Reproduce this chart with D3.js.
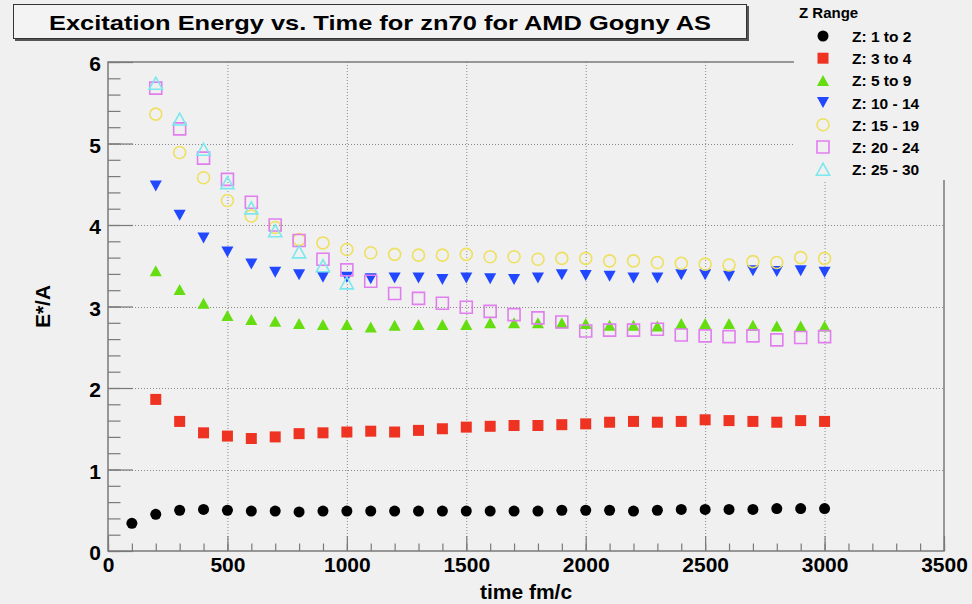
<!DOCTYPE html>
<html>
<head>
<meta charset="utf-8">
<script src="https://cdn.jsdelivr.net/npm/d3@7"></script>
<style>
  html, body { margin: 0; padding: 0; background: #f0f0f0; }
  svg { display: block; font-family: "Liberation Sans", Arial, Helvetica, sans-serif; font-weight: bold; }
</style>
</head>
<body>
<div id="chart"></div>
<script>
// time steps (fm/c)
const timeZ1 = [100, 200, 300, 400, 500, 600, 700, 800, 900, 1000, 1100, 1200, 1300, 1400, 1500,
  1600, 1700, 1800, 1900, 2000, 2100, 2200, 2300, 2400, 2500, 2600, 2700, 2800, 2900, 3000]
const timeMain = [200, 300, 400, 500, 600, 700, 800, 900, 1000, 1100, 1200, 1300, 1400, 1500,
  1600, 1700, 1800, 1900, 2000, 2100, 2200, 2300, 2400, 2500, 2600, 2700, 2800, 2900, 3000]
const timeZ25 = [200, 300, 400, 500, 600, 700, 800, 900, 1000]

// E*/A per Z range
const eZ1 = [0.34, 0.45, 0.50, 0.51, 0.50, 0.49, 0.49, 0.48, 0.49, 0.49, 0.49, 0.49, 0.49, 0.49, 0.49,
  0.49, 0.49, 0.49, 0.50, 0.50, 0.50, 0.49, 0.50, 0.51, 0.51, 0.51, 0.51, 0.52, 0.52, 0.52]
const eZ3 = [1.86, 1.59, 1.45, 1.41, 1.38, 1.40, 1.44, 1.45, 1.46, 1.47, 1.46, 1.48, 1.50, 1.52,
  1.53, 1.54, 1.54, 1.55, 1.56, 1.58, 1.59, 1.58, 1.59, 1.61, 1.60, 1.59, 1.58, 1.60, 1.59]
const eZ5 = [3.44, 3.21, 3.04, 2.89, 2.84, 2.82, 2.79, 2.78, 2.78, 2.75, 2.77, 2.78, 2.78, 2.78,
  2.80, 2.80, 2.80, 2.80, 2.79, 2.77, 2.77, 2.76, 2.79, 2.79, 2.79, 2.77, 2.76, 2.76, 2.76]
const eZ10 = [4.48, 4.12, 3.84, 3.67, 3.52, 3.42, 3.39, 3.36, 3.36, 3.34, 3.35, 3.35, 3.33, 3.35,
  3.34, 3.33, 3.35, 3.39, 3.38, 3.37, 3.35, 3.35, 3.39, 3.39, 3.37, 3.44, 3.43, 3.44, 3.42]
const eZ15 = [5.36, 4.89, 4.58, 4.30, 4.11, 3.97, 3.82, 3.78, 3.70, 3.66, 3.64, 3.63, 3.63, 3.64,
  3.61, 3.61, 3.58, 3.59, 3.59, 3.56, 3.56, 3.54, 3.53, 3.52, 3.51, 3.55, 3.54, 3.60, 3.59]
const eZ20 = [5.68, 5.18, 4.82, 4.56, 4.28, 4.00, 3.81, 3.58, 3.45, 3.31, 3.16, 3.10, 3.04, 2.99,
  2.94, 2.90, 2.86, 2.81, 2.70, 2.71, 2.71, 2.72, 2.65, 2.64, 2.63, 2.64, 2.59, 2.62, 2.63]
const eZ25 = [5.74, 5.30, 4.93, 4.52, 4.21, 3.93, 3.67, 3.50, 3.29]

const seriesNames = ["Z: 1 to 2", "Z: 3 to 4", "Z: 5 to 9", "Z: 10 - 14", "Z: 15 - 19", "Z: 20 - 24", "Z: 25 - 30"]
const xTicks = [0, 500, 1000, 1500, 2000, 2500, 3000, 3500]
const yTicks = [0, 1, 2, 3, 4, 5, 6]

const series = [
  { name: seriesNames[0], t: timeZ1, e: eZ1, shape: "circle", fill: true, color: "#000000" },
  { name: seriesNames[1], t: timeMain, e: eZ3, shape: "square", fill: true, color: "#ee3322" },
  { name: seriesNames[2], t: timeMain, e: eZ5, shape: "up", fill: true, color: "#66dd11" },
  { name: seriesNames[3], t: timeMain, e: eZ10, shape: "down", fill: true, color: "#2248ff" },
  { name: seriesNames[4], t: timeMain, e: eZ15, shape: "circle", fill: false, color: "#eee060" },
  { name: seriesNames[5], t: timeMain, e: eZ20, shape: "square", fill: false, color: "#e07eee" },
  { name: seriesNames[6], t: timeZ25, e: eZ25, shape: "up", fill: false, color: "#7ae8ee" },
]

const width = 972
const height = 604
const bg = "#f0f0f0"
const frameColor = "#7a7a7a"

const x = d3.scaleLinear().domain([0, 3500]).range([108, 944])
const y = d3.scaleLinear().domain([0, 6]).range([551, 62])

function markerPath(shape, filled) {
  const s = filled ? 5.5 : 6
  if (shape === "circle") {
    return d3.path ? `M${s},0A${s},${s} 0 1,1 ${-s},0A${s},${s} 0 1,1 ${s},0Z` : ""
  }
  if (shape === "square") return `M${-s},${-s}H${s}V${s}H${-s}Z`
  const h = s, w = s * 1.1
  if (shape === "up") return `M0,${-h}L${w},${h}L${-w},${h}Z`
  return `M0,${h}L${w},${-h}L${-w},${-h}Z`
}

const svg = d3.select("#chart").append("svg")
  .attr("width", width)
  .attr("height", height)

svg.append("rect").attr("width", width).attr("height", height).attr("fill", bg)

// dotted grid
const grid = svg.append("g")
  .attr("stroke", "#8a8a8a")
  .attr("stroke-width", 1)
  .attr("stroke-dasharray", "1,2")
grid.selectAll("line.gx")
  .data(xTicks.slice(1, -1))
  .join("line")
    .attr("x1", d => x(d) + 0.5).attr("x2", d => x(d) + 0.5)
    .attr("y1", y(6)).attr("y2", y(0))
grid.selectAll("line.gy")
  .data(yTicks.slice(1, -1))
  .join("line")
    .attr("y1", d => Math.round(y(d)) + 0.5).attr("y2", d => Math.round(y(d)) + 0.5)
    .attr("x1", x(0)).attr("x2", x(3500))

// x axis: major + minor inward ticks
const xMajor = svg.append("g")
  .attr("transform", `translate(0,${y(0)})`)
  .call(d3.axisBottom(x).tickValues(xTicks).tickSizeInner(-15).tickSizeOuter(0).tickPadding(21).tickFormat(d3.format("d")))
const xMinor = svg.append("g")
  .attr("transform", `translate(0,${y(0)})`)
  .call(d3.axisBottom(x).ticks(35).tickSizeInner(-7.5).tickSizeOuter(0).tickFormat(""))

const yMajor = svg.append("g")
  .attr("transform", `translate(${x(0)},0)`)
  .call(d3.axisLeft(y).tickValues(yTicks).tickSizeInner(-25).tickSizeOuter(0).tickPadding(7).tickFormat(d3.format("d")))
const yMinor = svg.append("g")
  .attr("transform", `translate(${x(0)},0)`)
  .call(d3.axisLeft(y).ticks(30).tickSizeInner(-12.5).tickSizeOuter(0).tickFormat(""))

;[xMajor, xMinor, yMajor, yMinor].forEach(g => {
  g.select(".domain").remove()
  g.selectAll(".tick line").attr("stroke", frameColor).attr("stroke-width", 1.2)
  g.selectAll(".tick text")
    .attr("fill", "#000")
    .attr("font-size", 21)
    .attr("font-weight", "bold")
    .attr("font-family", "'Liberation Sans', Arial, sans-serif")
})
xMajor.selectAll(".tick text").attr("dy", 0)
yMajor.selectAll(".tick text").attr("dy", "0.42em")

// frame
svg.append("rect")
  .attr("x", x(0)).attr("y", y(6))
  .attr("width", x(3500) - x(0)).attr("height", y(0) - y(6))
  .attr("fill", "none")
  .attr("stroke", frameColor)
  .attr("stroke-width", 1.5)

// data markers
series.forEach(s => {
  svg.append("g")
    .selectAll("path")
    .data(s.t.map((t, i) => [t, s.e[i]]))
    .join("path")
      .attr("transform", d => `translate(${x(d[0])},${y(d[1])})`)
      .attr("d", markerPath(s.shape, s.fill))
      .attr("fill", s.fill ? s.color : "none")
      .attr("stroke", s.fill ? "none" : s.color)
      .attr("stroke-width", 1.6)
})

// legend (covers the frame corner, no border)
const legend = svg.append("g")
legend.append("rect")
  .attr("x", 794).attr("y", 0)
  .attr("width", width - 794).attr("height", 180)
  .attr("fill", bg)
legend.append("text")
  .attr("x", 799).attr("y", 18)
  .attr("font-size", 15)
  .text("Z Range")
const items = legend.selectAll("g.item")
  .data(series)
  .join("g")
    .attr("transform", (d, i) => `translate(823,${36 + i * 22.2})`)
items.append("path")
  .attr("d", d => markerPath(d.shape, d.fill))
  .attr("fill", d => d.fill ? d.color : "none")
  .attr("stroke", d => d.fill ? "none" : d.color)
  .attr("stroke-width", 1.6)
items.append("text")
  .attr("x", 29).attr("y", 6)
  .attr("font-size", 15.5)
  .text(d => d.name)

// title box
const title = svg.append("g")
title.append("rect")
  .attr("x", 15).attr("y", 6)
  .attr("width", 734).attr("height", 35)
  .attr("fill", "#555")
title.append("rect")
  .attr("x", 13.5).attr("y", 4.5)
  .attr("width", 733).attr("height", 34)
  .attr("fill", "#f3f3f3")
  .attr("stroke", "#333")
  .attr("stroke-width", 1)
title.append("text")
  .attr("x", 380).attr("y", 30)
  .attr("text-anchor", "middle")
  .attr("font-size", 21)
  .attr("textLength", 662)
  .attr("lengthAdjust", "spacingAndGlyphs")
  .text("Excitation Energy vs. Time for zn70 for AMD Gogny AS")

// axis titles
svg.append("text")
  .attr("x", (x(0) + x(3500)) / 2).attr("y", 599)
  .attr("text-anchor", "middle")
  .attr("font-size", 21)
  .text("time fm/c")
svg.append("text")
  .attr("transform", `translate(50,${(y(0) + y(6)) / 2}) rotate(-90)`)
  .attr("text-anchor", "middle")
  .attr("font-size", 21)
  .text("E*/A")
</script>
</body>
</html>
